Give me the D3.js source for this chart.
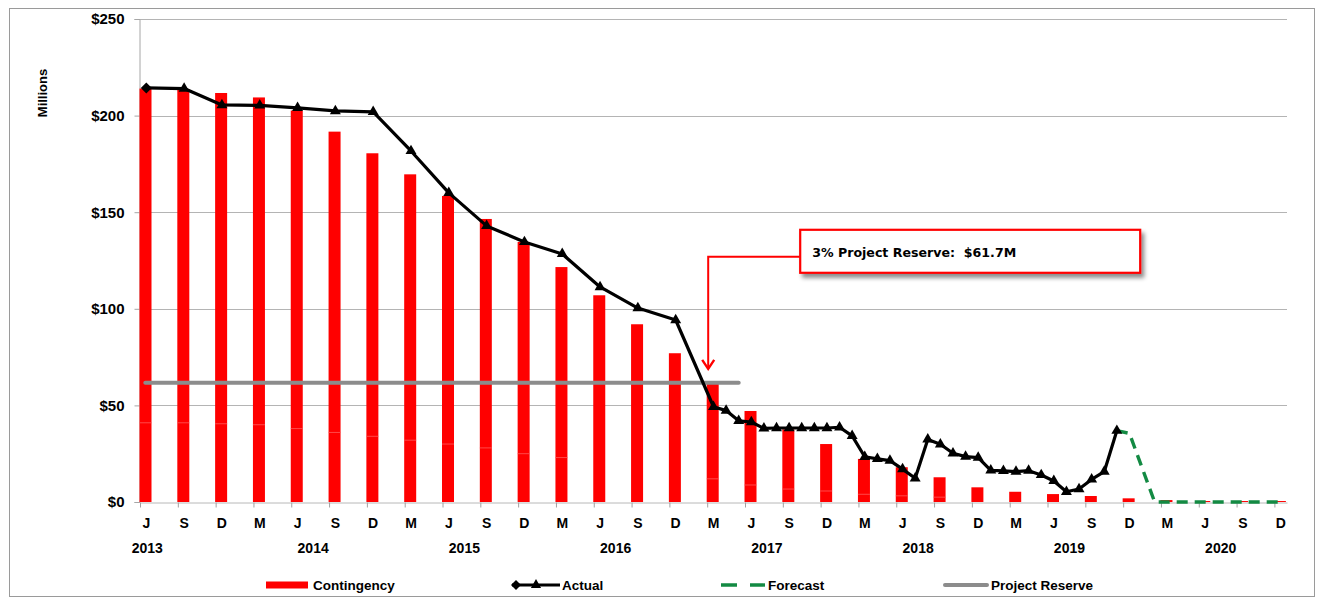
<!DOCTYPE html>
<html>
<head>
<meta charset="utf-8">
<script src="https://cdn.jsdelivr.net/npm/d3@7"></script>
<style>
  html, body { margin: 0; padding: 0; background: #fff; }
  svg { display: block; }
  text { font-family: "Liberation Sans", Arial, sans-serif; font-weight: bold; fill: #000; }
</style>
</head>
<body>
<svg id="chart" width="1325" height="604"></svg>
<script>
// ---------------- DATA ----------------
// quarter tick labels (Jun 2013 .. Dec 2020, every 3 months)
const quarterLabels = ["J","S","D","M","J","S","D","M","J","S","D","M","J","S","D","M",
  "J","S","D","M","J","S","D","M","J","S","D","M","J","S","D"];
const yearLabels = ["2013","2014","2015","2016","2017","2018","2019","2020"];
const yearMonthIndex = [0, 13, 25, 37, 49, 61, 73, 85];   // month slot (0 = Jun 2013) under which each year label sits
const yTicks = [0, 50, 100, 150, 200, 250];

// Contingency bars ($M), one per quarter label above
const contingency = [214, 213.8, 211.7, 209.4, 202.6, 191.7, 180.5, 169.6, 158.4, 146.5, 134.6,
  121.6, 107, 92, 77, 61.6, 47.1, 37.6, 30, 22.3, 18, 12.8, 7.6, 5.3, 4.1, 3.1, 1.9, 1.0, 0.5, 0.5, 0.5];
// lower stacked portion of the contingency bars (faint boundary visible in the bars)
const contingencyLower = [41, 41, 40.5, 40, 38, 36, 34, 32, 30, 28, 25, 23, null, null, null,
  12, 8.8, 6.7, 5.7, 4, 3.2, 2.5, null, null, null, null, null, null, null, null, null];

// Actual: month index (0 = Jun 2013) and value ($M)
const actualMonths = [0, 3, 6, 9, 12, 15, 18, 21, 24, 27, 30, 33, 36, 39, 42,
  45, 46, 47, 48, 49, 50, 51, 52, 53, 54, 55, 56, 57, 58, 59, 60, 61, 62, 63, 64, 65, 66,
  67, 68, 69, 70, 71, 72, 73, 74, 75, 76, 77];
const actualValues = [214.3, 214, 205.5, 205.3, 204, 202.4, 201.9, 181.7, 160, 142.9, 134.6, 128.4, 111.3, 100.4, 94.2,
  49.3, 47.3, 42, 41.4, 38.1, 38.3, 38.3, 38.3, 38.3, 38.3, 38.7, 34.2, 23.4, 22.3, 21.4, 17, 12.3, 32.4, 29.9, 25.2, 23.5, 23,
  16.4, 16.1, 15.7, 16.2, 14, 10.9, 5.3, 6.7, 11.7, 15.7, 36.9];

// Forecast
const forecastMonths = [77, 78, 80, 81, 84, 87, 90];
const forecastValues = [36.9, 35.5, 0, 0, 0, 0, 0];

// Project reserve (3%)
const reserveValue = 61.7;
const reserveMonths = [0, 47];
const annotationText = "3% Project Reserve:  $61.7M";

// ---------------- CHART ----------------
(function () {
const svg = d3.select("#chart");
const nMonths = 91;
const plotLeft = 140, plotRight = 1287, plotTop = 19, plotBottom = 502;

const x = d3.scaleLinear().domain([0, nMonths]).range([plotLeft, plotRight]);
const y = d3.scaleLinear().domain([0, 250]).range([plotBottom, plotTop]);
const cx = i => x(i + 0.5);

const diamondPath = s => `M0,${-s} L${s},0 L0,${s} L${-s},0 Z`;

// defs
const defs = svg.append("defs");
const f = defs.append("filter").attr("id", "shadow").attr("x", "-10%").attr("y", "-30%").attr("width", "130%").attr("height", "180%");
f.append("feDropShadow").attr("dx", 3).attr("dy", 4).attr("stdDeviation", 2.2)
  .attr("flood-color", "#000").attr("flood-opacity", 0.45);

// outer border
svg.append("rect").attr("x", 9.5).attr("y", 8.5).attr("width", 1305).attr("height", 588)
  .attr("fill", "none").attr("stroke", "#9a9a9a").attr("stroke-width", 1);

// gridlines
svg.append("g").selectAll("line").data(yTicks.filter(d => d > 0)).join("line")
  .attr("x1", plotLeft).attr("x2", plotRight)
  .attr("y1", d => Math.round(y(d)) + 0.5).attr("y2", d => Math.round(y(d)) + 0.5)
  .attr("stroke", "#b4b4b4").attr("stroke-width", 1);

// y axis
const yAxis = svg.append("g").attr("transform", `translate(${plotLeft - 0.5},0)`)
  .call(d3.axisLeft(y).tickValues(yTicks).tickFormat(d => "$" + d).tickSize(5).tickPadding(10));
yAxis.select(".domain").attr("stroke", "#a6a6a6");
yAxis.selectAll(".tick line").attr("stroke", "#a6a6a6");
yAxis.selectAll("text").style("font-size", "15px").style("font-family", "'Liberation Sans', Arial, sans-serif").style("font-weight", "bold");

// Millions label
svg.append("text").attr("transform", "translate(47,93) rotate(-90)")
  .attr("text-anchor", "middle").style("font-size", "13px").text("Millions");

// bars
const quarterIdx = quarterLabels.map((d, k) => k * 3);
const barW = 12;
svg.append("g").selectAll("rect").data(contingency).join("rect")
  .attr("x", (d, k) => x(quarterIdx[k]) - 0.5)
  .attr("width", barW)
  .attr("y", d => y(d))
  .attr("height", d => plotBottom - y(d))
  .attr("fill", "#ff0000");
svg.append("g").selectAll("line").data(contingencyLower.map((v, k) => ({v, k})).filter(d => d.v != null)).join("line")
  .attr("x1", d => x(quarterIdx[d.k]) - 0.5).attr("x2", d => x(quarterIdx[d.k]) - 0.5 + barW)
  .attr("y1", d => y(d.v)).attr("y2", d => y(d.v))
  .attr("stroke", "#ff5a5a").attr("stroke-width", 0.8);

// x axis
const xAxis = svg.append("g").attr("transform", `translate(0,${plotBottom + 0.5})`)
  .call(d3.axisBottom(x).tickValues(quarterIdx).tickFormat("").tickSize(5).tickSizeOuter(0));
xAxis.select(".domain").attr("stroke", "#b8b8b8");
xAxis.selectAll(".tick line").attr("stroke", "#a0a0a0");

svg.append("g").selectAll("text").data(quarterLabels).join("text")
  .attr("x", (d, k) => cx(quarterIdx[k]))
  .attr("y", 528).attr("text-anchor", "middle").style("font-size", "14px").text(d => d);
svg.append("g").selectAll("text").data(yearLabels).join("text")
  .attr("x", (d, k) => cx(yearMonthIndex[k]) + (k === 0 ? 1 : 3))
  .attr("y", 553).attr("text-anchor", "middle").style("font-size", "14px").text(d => d);

// project reserve line
svg.append("line")
  .attr("x1", cx(reserveMonths[0]) - 1).attr("x2", cx(reserveMonths[1]))
  .attr("y1", y(reserveValue)).attr("y2", y(reserveValue))
  .attr("stroke", "#8c8c8c").attr("stroke-width", 4).attr("stroke-linecap", "round");

// forecast line
const forecast = forecastMonths.map((m, i) => ({m, v: forecastValues[i]}));
svg.append("path").datum(forecast)
  .attr("d", d3.line().x(d => cx(d.m)).y(d => y(d.v)))
  .attr("fill", "none").attr("stroke", "#138a43").attr("stroke-width", 3.4)
  .attr("stroke-dasharray", "11,7");

// actual line
const actual = actualMonths.map((m, i) => ({m, v: actualValues[i]}));
svg.append("path").datum(actual)
  .attr("d", d3.line().x(d => cx(d.m)).y(d => y(d.v)))
  .attr("fill", "none").attr("stroke", "#000").attr("stroke-width", 3.2).attr("stroke-linejoin", "round");
svg.append("g").selectAll("path").data(actual).join("path")
  .attr("transform", d => `translate(${cx(d.m)},${y(d.v)})`)
  .attr("d", (d, i) => i === 0 ? diamondPath(5.5) : d3.symbol(d3.symbolTriangle, 52)())
  .attr("fill", "#000");

// annotation
const tipX = x(45) + 1;
const tipY = y(reserveValue) - 14;
const boxX = tipX + 92, boxY = y(reserveValue) - 153, boxW = 340, boxH = 43;
svg.append("path")
  .attr("d", `M${boxX},${boxY + 27} H${tipX} V${tipY}`)
  .attr("fill", "none").attr("stroke", "#ff0000").attr("stroke-width", 2);
svg.append("path")
  .attr("d", `M${tipX - 6},${tipY - 9} L${tipX},${tipY} L${tipX + 6},${tipY - 9}`)
  .attr("fill", "none").attr("stroke", "#ff0000").attr("stroke-width", 2.4).attr("stroke-linejoin", "miter");
svg.append("rect").attr("x", boxX).attr("y", boxY).attr("width", boxW).attr("height", boxH)
  .attr("fill", "#fff").attr("stroke", "#ff0000").attr("stroke-width", 2.2)
  .attr("filter", "url(#shadow)");
svg.append("text").attr("x", boxX + 12).attr("y", boxY + 27)
  .attr("xml:space", "preserve").style("white-space", "pre")
  .style("font-family", "'DejaVu Sans', Verdana, sans-serif").style("font-size", "12.6px")
  .text(annotationText);

// legend
const ly = 585;
const lg = svg.append("g");
lg.append("rect").attr("x", 266).attr("y", ly - 3.5).attr("width", 42).attr("height", 7).attr("fill", "#ff0000");
lg.append("text").attr("x", 313).attr("y", ly + 5).style("font-size", "13.5px").text("Contingency");

lg.append("line").attr("x1", 512).attr("x2", 560).attr("y1", ly).attr("y2", ly).attr("stroke", "#000").attr("stroke-width", 3);
lg.append("path").attr("transform", `translate(516,${ly})`).attr("d", diamondPath(5)).attr("fill", "#000");
lg.append("path").attr("transform", `translate(536,${ly})`).attr("d", d3.symbol(d3.symbolTriangle, 45)()).attr("fill", "#000");
lg.append("text").attr("x", 562).attr("y", ly + 5).style("font-size", "13.5px").text("Actual");

lg.append("line").attr("x1", 721).attr("x2", 765).attr("y1", ly).attr("y2", ly)
  .attr("stroke", "#138a43").attr("stroke-width", 3.4).attr("stroke-dasharray", "16,13");
lg.append("text").attr("x", 768).attr("y", ly + 5).style("font-size", "13.5px").text("Forecast");

lg.append("line").attr("x1", 945).attr("x2", 987).attr("y1", ly).attr("y2", ly)
  .attr("stroke", "#8c8c8c").attr("stroke-width", 4).attr("stroke-linecap", "round");
lg.append("text").attr("x", 991).attr("y", ly + 5).style("font-size", "13.5px").text("Project Reserve");
})();
</script>
</body>
</html>
